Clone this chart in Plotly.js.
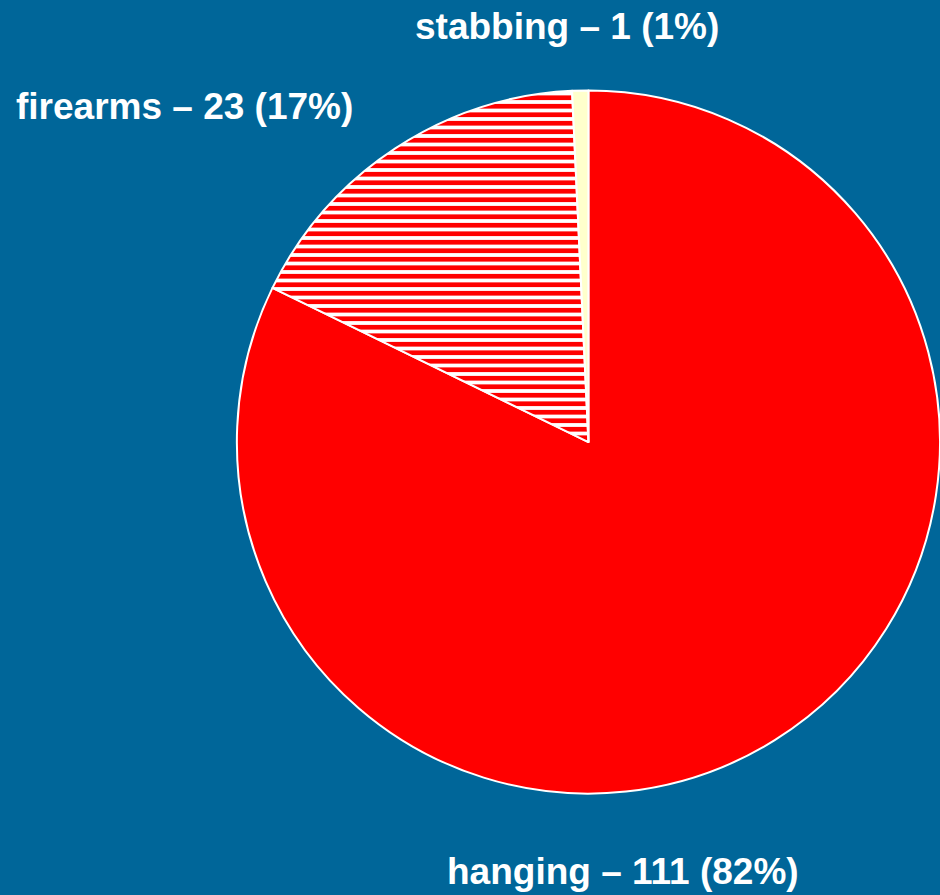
<!DOCTYPE html>
<html><head><meta charset="utf-8">
<script src="https://cdn.plot.ly/plotly-3.0.1.min.js"></script>
<style>html,body{margin:0;padding:0;background:#006699;}</style>
</head><body>
<div id="chart" style="width:940px;height:895px;"></div>
<script>
var labels = ["hanging", "firearms", "stabbing"];
var values = [111, 23, 1];
var colors = ["#ff0000", "#ffffff", "#ffffcc"];
var patternShapes = ["", "-", ""];

var total = values.reduce(function(a,b){return a+b;}, 0);
var labelTexts = labels.map(function(l,i){
  return l + " – " + values[i] + " (" + Math.round(values[i]/total*100) + "%)";
});
var labelPos = [[0.6628, 0.026], [0.1963, 0.881], [0.603, 0.970]];

var trace = {
  type: "pie",
  labels: labels,
  values: values,
  sort: false,
  direction: "clockwise",
  rotation: 0,
  textinfo: "none",
  hoverinfo: "label+value+percent",
  showlegend: false,
  domain: {x: [0.252, 1.0], y: [0.1128, 0.8994]},
  marker: {
    colors: colors,
    line: {color: "#ffffff", width: 2},
    pattern: {shape: patternShapes, fgcolor: "#ff0000", bgcolor: "#ffffff", size: 8.5, solidity: 0.55, fillmode: "replace"}
  }
};

var annotations = labelTexts.map(function(t,i){
  return {text: "<b>"+t+"</b>", xref: "paper", yref: "paper", x: labelPos[i][0], y: labelPos[i][1],
    xanchor: "center", yanchor: "middle", showarrow: false,
    font: {family: "Liberation Sans, Arial, sans-serif", size: 37, color: "#ffffff"}};
});

var layout = {
  width: 940, height: 895,
  margin: {l:0, r:0, t:0, b:0},
  paper_bgcolor: "#006699",
  plot_bgcolor: "#006699",
  annotations: annotations
};
Plotly.newPlot("chart", [trace], layout, {displayModeBar: false});
</script>
</body></html>
